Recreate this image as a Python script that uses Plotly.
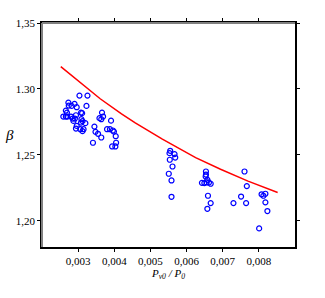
import plotly.graph_objects as go

# measured points (P_v0/P_0, beta)
px = [0.003036, 0.003258, 0.00273, 0.00274, 0.00282, 0.0029, 0.00296, 0.00323, 0.00266, 0.00269,
      0.00259, 0.00266, 0.0027, 0.0028, 0.00285, 0.00291, 0.00287, 0.00294, 0.00308, 0.00311,
      0.00309, 0.00312, 0.00308, 0.0032, 0.00296, 0.00294, 0.00306, 0.00315, 0.00312, 0.00366,
      0.00369, 0.00359, 0.00364, 0.00391, 0.00345, 0.00348, 0.00355, 0.0038, 0.00388, 0.00396,
      0.00399, 0.00364, 0.00404, 0.00341, 0.00405, 0.00394, 0.00403,
      0.005547, 0.005528, 0.005667, 0.005686, 0.005536, 0.005611, 0.005508, 0.005583, 0.005583,
      0.006536, 0.006536, 0.006528, 0.006575, 0.006425, 0.006492, 0.006556, 0.006619, 0.006667,
      0.006592, 0.006667, 0.006575,
      0.007603, 0.007667, 0.007508, 0.007297, 0.007647, 0.008075, 0.008125, 0.008181, 0.008181,
      0.008236, 0.008008]
py = [1.2949, 1.2949, 1.2896, 1.2873, 1.2871, 1.2886, 1.2861, 1.2871, 1.2835, 1.282,
      1.279, 1.279, 1.279, 1.279, 1.2775, 1.2775, 1.2757, 1.28, 1.282, 1.2816,
      1.277, 1.2755, 1.2744, 1.274, 1.2719, 1.2699, 1.2694, 1.2694, 1.2679, 1.282,
      1.279, 1.2778, 1.277, 1.2759, 1.2714, 1.2674, 1.2659, 1.2694, 1.2694, 1.2684,
      1.2676, 1.2631, 1.2641, 1.2591, 1.2591, 1.2563, 1.2563,
      1.253, 1.2512, 1.2505, 1.2479, 1.2462, 1.2411, 1.2356, 1.2305, 1.2181,
      1.2373, 1.235, 1.2335, 1.231, 1.2287, 1.2285, 1.229, 1.229, 1.228,
      1.2189, 1.2133, 1.209,
      1.2373, 1.2262, 1.2183, 1.2133, 1.2133, 1.22, 1.2189, 1.2204, 1.2139,
      1.2073, 1.1941]

# curve
cx = [0.00252, 0.00306, 0.00361, 0.00420, 0.00458, 0.00533, 0.00625, 0.00694, 0.00770, 0.00852]
cy = [1.3169, 1.3045, 1.2925, 1.2810, 1.2742, 1.2618, 1.2478, 1.2390, 1.2300, 1.2214]

xticks = [0.003, 0.004, 0.005, 0.006, 0.007, 0.008]
xticktext = ["0,003", "0,004", "0,005", "0,006", "0,007", "0,008"]
yticks = [1.20, 1.25, 1.30, 1.35]
yticktext = ["1,20", "1,25", "1.30", "1,35"]

font = dict(family="Liberation Serif, Times New Roman, serif", size=11, color="black")

fig = go.Figure()
fig.add_trace(go.Scatter(x=px, y=py, mode="markers",
                         marker=dict(symbol="circle-open", size=5, color="#0000ff",
                                     line=dict(width=1.2, color="#0000ff")),
                         showlegend=False, hoverinfo="skip"))
fig.add_trace(go.Scatter(x=cx, y=cy, mode="lines", line=dict(color="#ff0000", width=1.5),
                         showlegend=False, hoverinfo="skip"))

fig.update_layout(
    width=325, height=298,
    margin=dict(l=42, r=30, t=23, b=51),
    paper_bgcolor="white", plot_bgcolor="white",
    font=font,
    xaxis=dict(range=[0.002, 0.009], tickvals=xticks, ticktext=xticktext,
               showgrid=False, zeroline=False, showline=True, linecolor="black", linewidth=1.5,
               mirror="ticks", ticks="outside", ticklen=3, tickwidth=1, tickcolor="black",
               tickfont=font,
               title=dict(text="<i>P</i><sub><i>v0</i></sub><i> / P</i><sub><i>0</i></sub>",
                          font=font, standoff=2)),
    yaxis=dict(range=[1.18, 1.35], tickvals=yticks, ticktext=yticktext,
               showgrid=False, zeroline=False, showline=True, linecolor="black", linewidth=1.5,
               mirror="ticks", ticks="outside", ticklen=3, tickwidth=1, tickcolor="black",
               tickfont=font),
    shapes=[
        dict(type="line", xref="paper", yref="paper", x0=0, x1=0, y0=0, y1=1,
             line=dict(color="#808080", width=2), layer="above"),
        dict(type="line", xref="paper", yref="paper", x0=0, x1=1, y0=1, y1=1,
             line=dict(color="#808080", width=2), layer="above"),
    ],
    annotations=[dict(text="<i>β</i>", xref="paper", yref="paper", x=-0.128, y=0.5,
                      showarrow=False, xanchor="center", yanchor="middle",
                      font=dict(family="Liberation Serif, serif", size=15, color="black"))],
)

fig.write_html("out.html", config={"displayModeBar": False},
               post_script="document.body.style.margin='0';document.body.style.padding='0';")
